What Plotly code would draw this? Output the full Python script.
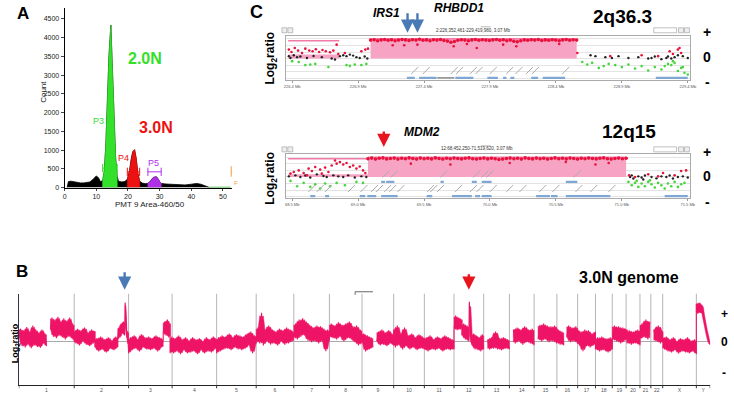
import plotly.graph_objects as go
import numpy as np

W, H = 734, 397
FONT = "Liberation Sans, Arial, Helvetica, sans-serif"


def px(x):
    return x / W


def py(y):
    return 1 - y / H


# ================= Panel A : DNA content histogram =================
hist_pos = [0.8, 1.2, 2, 3, 4, 5, 6, 7, 8, 9, 10, 10.7, 11.3, 12, 12.5, 13, 13.5, 14, 14.6,
            15.1, 15.6, 16.1, 16.6, 17, 18, 19, 19.8, 20.5, 21, 21.5, 22.1, 22.6, 23.1, 23.7,
            24.5, 25.5, 26.3, 27, 27.5, 28, 28.9, 29.5, 30, 30.5, 32, 34, 36, 38, 40, 41.7,
            43, 44, 45, 45.8]
hist_count = [0, 160, 170, 150, 135, 125, 125, 135, 150, 220, 310, 260, 160, 180, 420, 1100,
              2300, 3500, 4330, 3300, 1900, 800, 300, 170, 150, 160, 220, 450, 750, 950, 1010,
              780, 400, 170, 120, 105, 115, 160, 220, 270, 290, 240, 160, 110, 95, 80, 70, 70,
              90, 110, 90, 60, 25, 0]
gate_names = ["P3", "P4", "P5"]
gate_lo = [12.0, 19.8, 26.3]
gate_hi = [16.6, 23.7, 30.5]
gate_level = [520, 420, 420]
gate_colors = ["#33e02a", "#ee1111", "#b02ee8"]
gate_label_pos = [10.8, 18.6, 28.0]
gate_label_count = [1780, 790, 660]
tail_pos = [45.8, 52.4]
tail_count = [6, 6]
f_gate_pos = 52.6
f_gate_level = 430

# ================= Panel B : genome-wide profile =================
chrom_names = [str(i) for i in range(1, 23)] + ["X", "Y"]
chrom_bounds = [0, 56, 111, 155, 200, 240, 278, 314, 347, 379, 410, 440, 470, 496, 521,
                544, 565, 583, 600, 614, 628, 639, 651, 685, 699]
seg_start = [0.3, 32, 56, 77, 100, 107.5, 111, 146, 153, 200, 240, 278, 314, 347, 362, 379,
             410, 440, 448, 455.5, 474, 500, 525, 554, 565, 583, 600, 615, 628, 642, 651, 685]
seg_end = [28, 56, 77, 100, 107, 111, 146, 153, 200, 240, 278, 314, 347, 358, 379, 410, 440,
           448, 455, 470, 496, 521, 551, 565, 583, 600, 615, 628, 638, 651, 685, 699]
seg_values = [
    [0.1, 0.32, -0.12, 0.28, -0.15, 0.36, -0.08, 0.25, -0.17, 0.4, -0.1, 0.3, -0.14, 0.22, -0.16, 0.3, -0.05, 0.2, -0.12],
    [0.3, 0.6, 0.12, 0.55, 0.08, 0.62, 0.15, 0.5, 0.1, 0.58, 0.05, 0.52, 0.12, 0.6, 0.08, 0.45, 0.02],
    [0.25, -0.05, 0.32, -0.1, 0.28, 0.0, 0.35, -0.08, 0.22, -0.12, 0.3, -0.05, 0.26],
    [-0.15, 0.08, -0.25, 0.12, -0.2, 0.05, -0.28, 0.1, -0.18, 0.02, -0.22, 0.12, -0.15],
    [0.05, 0.35, 0.1, 0.45, 0.2, 0.5, 0.15],
    [0.98, 0.3, 0.1, 0.25, -0.1],
    [-0.3, 0.1, -0.22, 0.15, -0.18, 0.05, -0.25, 0.18, -0.15, 0.1, -0.2, 0.12, -0.22, 0.08, -0.18, 0.15, -0.25, 0.1, -0.15, 0.05],
    [0.2, 0.5, 0.15, 0.55, 0.1, 0.45],
    [-0.3, 0.12, -0.3, 0.08, -0.25, 0.15, -0.32, 0.05, -0.22, 0.1, -0.3, 0.02, -0.28, 0.1, -0.25, 0.05, -0.32, 0.08, -0.22, 0.0, -0.3, 0.1, -0.25, 0.05, -0.28, 0.12, -0.2, 0.05],
    [-0.3, 0.1, -0.25, 0.15, -0.2, 0.12, -0.18, 0.2, -0.22, 0.1, -0.15, 0.18, -0.2, 0.15, -0.22, 0.12, -0.18, 0.2, -0.1, 0.25, -0.3, 0.15, -0.05],
    [0.0, 0.35, -0.05, 0.72, -0.1, 0.3, 0.0, 0.4, -0.08, 0.3, -0.05, 0.25, -0.1, 0.32, 0.0, 0.28, -0.08, 0.35, -0.05, 0.3, 0.0, 0.22],
    [0.1, 0.45, 0.05, 0.55, 0.12, 0.58, 0.15, 0.5, 0.02, 0.42, -0.02, 0.35, 0.0, 0.4, -0.05, 0.38, 0.0, 0.32, -0.25, 0.3, 0.02],
    [0.1, 0.45, 0.08, 0.4, 0.05, 0.48, 0.12, 0.42, 0.0, 0.45, 0.08, 0.5, 0.05, 0.38, -0.02, 0.4, -0.1, 0.3, -0.05],
    [0.0, 0.2, -0.25, 0.15, -0.2, 0.1, -0.15],
    [0.0, 0.25, -0.1, 0.3, -0.08, 0.22, -0.12, 0.28, -0.05, 0.2, -0.1],
    [0.3, -0.15, 0.4, -0.1, 0.2, -0.2, 0.35, -0.12, 0.15, -0.2, 0.2, -0.15, 0.1, -0.22, 0.18, -0.18, 0.12, -0.2],
    [-0.2, 0.1, -0.25, 0.15, -0.2, 0.05, -0.22, 0.12, -0.18, 0.08, -0.25, 0.15, -0.2, 0.1, -0.22, 0.05, -0.2],
    [0.3, 0.65, 0.28, 0.6, 0.3, 0.55],
    [0.15, 0.45, 0.05, 0.4, 0.0],
    [1.0, 0.1, -0.1, 0.2, -0.2, 0.15, -0.22, 0.1, -0.25, 0.18, -0.2],
    [0.05, -0.2, 0.1, -0.18, 0.25, -0.2, 0.08, -0.22, 0.1, -0.18, 0.05, -0.2],
    [0.3, -0.05, 0.35, 0.0, 0.3, -0.08, 0.38, -0.02, 0.3, -0.05, 0.32, -0.1],
    [0.05, 0.42, 0.0, 0.45, 0.05, 0.4, -0.02, 0.38, 0.0, 0.4, -0.05, 0.3, -0.08, 0.25, -0.1],
    [0.1, 0.4, -0.02, 0.35, 0.0, 0.38, -0.05],
    [0.3, -0.1, 0.25, -0.25, 0.3, -0.12, 0.28, -0.15, 0.2, -0.1, 0.25],
    [-0.2, 0.1, -0.25, 0.12, -0.22, 0.08, -0.28, 0.1, -0.2],
    [0.05, 0.4, 0.0, 0.38, -0.05, 0.35, 0.02, 0.3],
    [-0.05, 0.28, -0.08, 0.25, -0.05, 0.3, -0.1],
    [0.05, 0.45, 0.1, 0.55, 0.05, 0.5],
    [0.3, 0.0, 0.4, -0.05, 0.25],
    [0.1, -0.2, 0.12, -0.25, 0.05, -0.28, 0.1, -0.22, 0.0, -0.3, 0.08, -0.25, 0.05, -0.28, 0.1, -0.3, 0.02, -0.25, 0.05, -0.32],
    [0.95, 0.7, 0.98, 0.72, 0.92, 0.68, 0.45, 0.3, 0.15, 0.0, -0.08],
]

# ================= Panel C : array CGH zoom views =================
# --- 2q36.3 ---
c1_ticks = [226.4, 226.9, 227.4, 227.9, 228.4, 228.9, 229.4]
c1_cnv_start = [226.37, 226.995]
c1_cnv_end = [226.7575, 228.5575]
c1_cnv_level = [0.2, 1.0]
c1_cnv_line = [0.9, 1.0]
c1_amp_vals = [0.93, 0.95, 0.9, 0.94, 0.96, 0.92, 0.95, 0.9, 0.93, 0.96, 0.94, 0.91, 0.95, 0.93,
               0.97, 0.92, 0.94, 0.9, 0.95, 0.93, 0.96, 0.91, 0.88, 0.82, 0.86, 0.92, 0.95, 0.93,
               0.9, 0.94, 0.96, 0.92, 0.95, 0.93, 0.91, 0.94, 0.96, 0.92, 0.95, 0.9, 0.93, 0.87,
               0.85, 0.9, 0.94, 0.92, 0.95, 0.93, 0.96, 0.91, 0.94, 0.92, 0.95, 0.93, 0.9, 0.94,
               0.96, 0.92, 0.95, 0.93]
c1_red_pos = [226.375, 226.395, 226.42, 226.445, 226.475, 226.5, 226.53, 226.555, 226.58, 226.605,
              226.63, 226.655, 226.6875, 226.7125, 226.7375, 226.75, 226.8, 226.925, 226.955, 226.975,
              227.1625, 227.25, 227.35, 227.625, 227.725, 228.0, 228.1, 228.425, 227.8,
              228.5625, 228.8125, 229.05, 229.175, 229.2625, 229.2875, 229.325, 229.3375, 229.35]
c1_red_vals = [0.45, 0.33, 0.53, 0.4, 0.28, 0.5, 0.4, 0.37, 0.47, 0.33, 0.43, 0.37, 0.32, 0.4, 0.7,
               0.23, 0.28, 0.37, 0.45, 0.5,
               0.67, 0.67, 0.7, 0.62, 0.73, 0.7, 0.62, 0.73, 0.53,
               0.28, 0.12, 0.17, 0.12, 0.37, 0.23, 0.45, 0.53, 0.28]
c1_black_pos = [226.375, 226.3875, 226.4125, 226.4375, 226.4625, 226.5125, 226.5625, 226.625, 226.7,
                226.725, 226.7625, 226.7875, 226.8125, 226.8375, 226.8625, 226.8875, 226.9125,
                226.95, 226.97,
                228.6625, 228.7, 228.775, 228.825, 228.875, 228.95, 229.025, 229.1, 229.125,
                229.15, 229.2, 229.2375, 229.25, 229.275, 229.3, 229.325, 229.3625, 229.4]
c1_black_vals = [0.12, 0.03, 0.17, 0.07, 0.1, 0.03, 0.13, 0.07, 0.0, -0.05, 0.12, 0.17, 0.12, 0.2,
                 0.15, 0.07, 0.03, 0.1, 0.0,
                 0.17, 0.12, 0.07, 0.03, 0.12, 0.03, 0.07, 0.0, 0.03, 0.1, -0.03, 0.03, 0.1, 0.0,
                 0.07, 0.17, 0.12, 0.03]
c1_green_pos = [226.4, 226.45, 226.5, 226.5375, 226.575, 226.675, 226.8125, 226.8375, 226.875,
                226.925, 226.9625,
                228.6, 228.6375, 228.675, 228.725, 228.7625, 228.8, 228.85, 228.9, 228.95, 229.0,
                229.05, 229.1, 229.15, 229.2, 229.225, 229.25, 229.275, 229.2875, 229.3, 229.325,
                229.35, 229.3625, 229.375, 229.4]
c1_green_vals = [-0.13, -0.17, -0.33, -0.3, -0.27, -0.43, -0.33, -0.37, -0.3, -0.33, -0.27,
                 -0.17, -0.3, -0.22, -0.47, -0.38, -0.27, -0.33, -0.43, -0.3, -0.5, -0.38, -0.6,
                 -0.43, -0.55, -0.38, -0.27, -0.33, -0.13, -0.22, -0.63, -0.47, -0.43, -0.72, -0.8]
c1_gene_start = [227.27, 227.3625, 227.6375, 227.88, 228.0, 228.055, 228.2125, 228.3, 229.1575]
c1_gene_end = [227.33, 227.495, 227.775, 227.96, 228.025, 228.085, 228.265, 228.47, 229.4]
c1_grey_gene = [227.5, 227.63]
c1_gene_label_pos = [227.33, 227.4175, 227.63, 227.67, 227.775, 227.8175, 227.925, 228.05, 228.12,
                     228.2, 228.245, 228.475]

# --- 12q15 ---
c2_ticks = [68.5, 69.0, 69.5, 70.0, 70.5, 71.0, 71.5]
c2_cnv_start = [68.47, 69.075]
c2_cnv_end = [69.075, 71.0325]
c2_cnv_level = [0.13, 1.0]
c2_cnv_line = [0.92, 1.0]
c2_amp_vals = [0.92, 0.95, 0.9, 0.94, 0.96, 0.91, 0.93, 0.95, 0.9, 0.94, 0.92, 0.96, 0.93, 0.9,
               0.95, 0.92, 0.94, 0.91, 0.96, 0.93, 0.9, 0.94, 0.92, 0.95, 0.93, 0.91, 0.94, 0.96,
               0.92, 0.9, 0.93, 0.95, 0.91, 0.94, 0.92, 0.88, 0.9, 0.93, 0.95, 0.92, 0.94, 0.9,
               0.96, 0.93, 0.91, 0.95, 0.92, 0.94, 0.9, 0.93, 0.96, 0.92, 0.94, 0.91, 0.95, 0.93,
               0.9, 0.94, 0.92, 0.95, 0.93, 0.91, 0.94, 0.96, 0.92, 0.9, 0.93, 0.95, 0.92, 0.94]
c2_red_pos = [68.4875, 68.5125, 68.55, 68.5875, 68.6125, 68.625, 68.65, 68.675, 68.7125, 68.725,
              68.75, 68.775, 68.8, 68.825, 68.8375, 68.8625, 68.8875, 68.9125, 68.9375, 68.9625,
              68.9875, 69.0125, 69.0375, 69.055,
              69.4, 69.7, 70.15, 70.575, 70.8, 70.9,
              71.055, 71.1, 71.2, 71.275, 71.3125, 71.4, 71.45, 71.4875]
c2_red_vals = [0.17, 0.25, 0.33, 0.2, 0.08, 0.42, 0.3, 0.5, 0.37, 0.17, 0.47, 0.25, 0.58, 0.83,
               0.67, 0.75, 0.63, 0.7, 0.5, 0.58, 0.42, 0.53, 0.33, 0.2,
               0.67, 0.63, 0.7, 0.75, 0.63, 0.7,
               0.08, 0.0, 0.13, 0.03, 0.2, 0.08, 0.3, 0.33]
c2_black_pos = [68.475, 68.525, 68.5625, 68.6, 68.6375, 68.6875, 68.7375, 68.7625, 68.8125, 68.85,
                68.8875, 68.925, 68.975, 69.025, 69.0625,
                71.0625, 71.075, 71.0875, 71.125, 71.15, 71.1625, 71.175, 71.225, 71.2625, 71.3,
                71.3375, 71.3625, 71.3875, 71.425, 71.4625, 71.5]
c2_black_vals = [0.03, 0.08, 0.0, 0.07, -0.03, 0.13, 0.05, 0.0, 0.08, 0.03, 0.0, 0.08, -0.03, 0.03,
                 0.0,
                 0.0, 0.08, -0.08, 0.03, -0.03, -0.13, 0.07, 0.0, -0.07, 0.03, 0.0, 0.07, -0.08,
                 0.0, 0.03, -0.03]
c2_green_pos = [68.4875, 68.5375, 68.5875, 68.6375, 68.675, 68.7125, 68.75, 68.7875, 68.8375, 68.9,
                68.9875, 69.0375,
                71.05, 71.075, 71.1, 71.1125, 71.125, 71.15, 71.175, 71.2, 71.2125, 71.225, 71.25,
                71.275, 71.3, 71.325, 71.35, 71.375, 71.4, 71.425, 71.45, 71.475]
c2_green_vals = [-0.2, -0.47, -0.3, -0.5, -0.37, -0.58, -0.33, -0.47, -0.3, -0.42, -0.25, -0.3,
                 -0.25, -0.42, -0.3, -0.2, -0.5, -0.33, -0.47, -0.25, -0.17, -0.37, -0.53, -0.3,
                 -0.42, -0.58, -0.33, -0.47, -0.25, -0.5, -0.37, -0.3]
c2_gene_start_a = [69.175, 69.2125, 69.625, 69.8625, 69.9375, 70.575]
c2_gene_end_a = [69.205, 69.275, 69.65, 69.9, 70.0125, 70.6625]
c2_gene_start_b = [68.6375, 68.75, 69.0125, 69.07, 69.175, 69.52, 69.7125, 69.8875, 69.9375,
                   70.35, 70.4625, 70.575, 71.325]
c2_gene_end_b = [68.675, 68.78, 69.055, 69.1375, 69.3, 69.5625, 69.8625, 69.925, 70.0125, 70.455,
                 70.5125, 70.9125, 71.5]
c2_gene_label_pos_a = [69.2125, 69.275, 69.65, 69.9, 69.9625, 70.0, 70.6625]
c2_gene_label_pos_b = [68.65, 68.7125, 68.775, 68.95, 69.045, 69.125, 69.1625, 69.225, 69.2625,
                       69.325, 69.55, 69.575, 69.625, 69.7625, 69.875, 69.925, 70.025, 70.15,
                       70.25, 70.4, 70.5, 70.675, 70.7875, 70.925]

RED = "#e8123c"
PINK = "#f7a3c3"
PINK_LINE = "#f27aa8"
BLACK_DOT = "#222222"
GREEN_DOT = "#44d63a"
GENE_BLUE = "#7fa7d4"
LINE_B = "#ee1466"

fig = go.Figure()

# ---------- Panel A traces ----------
fig.add_trace(go.Scatter(x=hist_pos, y=hist_count, mode="lines", fill="tozeroy",
                         line=dict(color="black", width=0.8), fillcolor="black",
                         xaxis="x", yaxis="y", hoverinfo="skip"))
for lo, hi, col in zip(gate_lo, gate_hi, gate_colors):
    xs = [lo] + [p for p in hist_pos if lo <= p <= hi] + [hi]
    ys = [0] + [c for p, c in zip(hist_pos, hist_count) if lo <= p <= hi] + [0]
    fig.add_trace(go.Scatter(x=xs, y=ys, mode="lines", fill="toself", fillcolor=col,
                             line=dict(color=col, width=0.6), xaxis="x", yaxis="y",
                             hoverinfo="skip"))
fig.add_trace(go.Scatter(x=tail_pos, y=tail_count, mode="lines",
                         line=dict(color="#2fa82f", width=1.2), xaxis="x", yaxis="y"))

# ---------- Panel C traces ----------
def add_cgh(xa, ya, cnv_s, cnv_e, cnv_l, cnv_line, amp_vals, red_p, red_v, blk_p, blk_v,
            grn_p, grn_v):
    for s, e, l, ln in zip(cnv_s, cnv_e, cnv_l, cnv_line):
        fig.add_trace(go.Scatter(x=[s, e, e, s, s], y=[0, 0, l, l, 0], mode="lines",
                                 fill="toself", fillcolor=PINK, line=dict(width=0),
                                 xaxis=xa, yaxis=ya, hoverinfo="skip"))
        fig.add_trace(go.Scatter(x=[s, e], y=[ln, ln], mode="lines",
                                 line=dict(color=PINK_LINE, width=1.4),
                                 xaxis=xa, yaxis=ya, hoverinfo="skip"))
    amp_x = np.linspace(cnv_s[1], cnv_e[1], len(amp_vals))
    fig.add_trace(go.Scatter(x=amp_x, y=amp_vals, mode="markers",
                             marker=dict(color=RED, size=3.6), xaxis=xa, yaxis=ya))
    fig.add_trace(go.Scatter(x=grn_p, y=grn_v, mode="markers",
                             marker=dict(color=GREEN_DOT, size=2.6), xaxis=xa, yaxis=ya))
    fig.add_trace(go.Scatter(x=blk_p, y=blk_v, mode="markers",
                             marker=dict(color=BLACK_DOT, size=2.4), xaxis=xa, yaxis=ya))
    fig.add_trace(go.Scatter(x=red_p, y=red_v, mode="markers",
                             marker=dict(color=RED, size=2.6), xaxis=xa, yaxis=ya))


def add_genes(xa, ya, starts, ends, level, color, width=2.2):
    gx, gy = [], []
    for s, e in zip(starts, ends):
        gx += [s, e, None]
        gy += [level, level, None]
    fig.add_trace(go.Scatter(x=gx, y=gy, mode="lines", line=dict(color=color, width=width),
                             xaxis=xa, yaxis=ya, hoverinfo="skip"))


def add_gene_labels(xa, ya, pos, level):
    fig.add_trace(go.Scatter(x=pos, y=[level] * len(pos), mode="markers",
                             marker=dict(symbol="line-ne", size=7,
                                         line=dict(color="#aaaaaa", width=1)),
                             xaxis=xa, yaxis=ya, hoverinfo="skip"))


add_cgh("x2", "y2", c1_cnv_start, c1_cnv_end, c1_cnv_level, c1_cnv_line, c1_amp_vals,
        c1_red_pos, c1_red_vals, c1_black_pos, c1_black_vals, c1_green_pos, c1_green_vals)
add_gene_labels("x2", "y2", c1_gene_label_pos, -0.6)
add_genes("x2", "y2", c1_gene_start, c1_gene_end, -0.97, GENE_BLUE)
add_genes("x2", "y2", [c1_grey_gene[0]], [c1_grey_gene[1]], -0.97, "#777777", 1.2)

add_cgh("x3", "y3", c2_cnv_start, c2_cnv_end, c2_cnv_level, c2_cnv_line, c2_amp_vals,
        c2_red_pos, c2_red_vals, c2_black_pos, c2_black_vals, c2_green_pos, c2_green_vals)
add_gene_labels("x3", "y3", c2_gene_label_pos_a, 0.15)
add_genes("x3", "y3", c2_gene_start_a, c2_gene_end_a, -0.25, GENE_BLUE)
add_gene_labels("x3", "y3", c2_gene_label_pos_b, -0.58)
add_genes("x3", "y3", c2_gene_start_b, c2_gene_end_b, -0.97, GENE_BLUE)

# ---------- Panel B traces ----------
bx, by = [], []
band_x, band_y = [], []
prev_end = None
for s, e, vals in zip(seg_start, seg_end, seg_values):
    pos = list(np.linspace(s, e, len(vals)))
    if prev_end is not None and s - prev_end > 0.6:
        bx.append(None)
        by.append(None)
    bx += pos
    by += vals
    prev_end = e
    # solid core of the noise band, derived from the local spread of the typed values
    up, lo = [], []
    for i in range(len(vals)):
        win = vals[max(0, i - 1):i + 2]
        m = sum(win) / len(win)
        up.append(m + 0.8 * (max(win) - m))
        lo.append(m - 0.8 * (m - min(win)))
    band_x += pos + pos[::-1] + [pos[0], None]
    band_y += up + lo[::-1] + [up[0], None]
fig.add_trace(go.Scatter(x=band_x, y=band_y, mode="lines", fill="toself", fillcolor=LINE_B,
                         line=dict(color=LINE_B, width=0.5), xaxis="x4", yaxis="y4",
                         hoverinfo="skip"))
fig.add_trace(go.Scatter(x=bx, y=by, mode="lines", line=dict(color=LINE_B, width=1.1),
                         xaxis="x4", yaxis="y4", hoverinfo="skip"))

# ---------- shapes ----------
shapes = []
for lo_, hi_, lvl, col in zip(gate_lo, gate_hi, gate_level, gate_colors):
    shapes.append(dict(type="line", xref="x", yref="y", x0=lo_, x1=hi_, y0=lvl, y1=lvl,
                       line=dict(color=col, width=1)))
    for xx in (lo_, hi_):
        shapes.append(dict(type="line", xref="x", yref="y", x0=xx, x1=xx, y0=lvl - 110,
                           y1=lvl + 110, line=dict(color=col, width=1)))
shapes.append(dict(type="line", xref="x", yref="y", x0=f_gate_pos, x1=f_gate_pos,
                   y0=f_gate_level - 140, y1=f_gate_level + 140,
                   line=dict(color="#f0a040", width=1)))
shapes.append(dict(type="line", xref="x", yref="y", x0=f_gate_pos, x1=53, y0=f_gate_level,
                   y1=f_gate_level, line=dict(color="#f0a040", width=1)))
# chromosome separators in B
for b in chrom_bounds[1:-1]:
    shapes.append(dict(type="line", xref="x4", yref="y4 domain", x0=b, x1=b, y0=0, y1=1,
                       line=dict(color="#b5b5b5", width=1), layer="below"))
for b in chrom_bounds:
    shapes.append(dict(type="line", xref="x4", yref="y4 domain", x0=b, x1=b, y0=-0.035, y1=0,
                       line=dict(color="#333", width=1)))
# small bar above B
shapes.append(dict(type="line", xref="paper", yref="paper", x0=px(357), x1=px(375),
                   y0=py(294), y1=py(294), line=dict(color="#666", width=1)))
shapes.append(dict(type="line", xref="paper", yref="paper", x0=px(357), x1=px(357),
                   y0=py(294), y1=py(297), line=dict(color="#666", width=1)))
# toolbar widgets on the CGH panels
for ty in (30.5, 150.5):
    for x0, x1 in ((283, 288), (289, 294), (684, 689), (690, 695)):
        shapes.append(dict(type="rect", xref="paper", yref="paper", x0=px(x0), x1=px(x1),
                           y0=py(ty + 2.5), y1=py(ty - 2.5), line=dict(color="#999", width=0.6),
                           fillcolor="#eeeeee"))
    shapes.append(dict(type="rect", xref="paper", yref="paper", x0=px(659), x1=px(682),
                       y0=py(ty + 2.5), y1=py(ty - 2.5), line=dict(color="#999", width=0.6),
                       fillcolor="#ffffff"))
    shapes.append(dict(type="line", xref="paper", yref="paper", x0=px(484), x1=px(494),
                       y0=py(ty - 3.5), y1=py(ty - 3.5), line=dict(color="#888", width=0.6)))

# ---------- annotations ----------
ann = []


def txt(x, y, s, size, color="black", bold=False, italic=False, angle=0, xanchor="center",
        yanchor="middle"):
    t = s
    if italic:
        t = "<i>" + t + "</i>"
    if bold:
        t = "<b>" + t + "</b>"
    ann.append(dict(x=px(x), y=py(y), xref="paper", yref="paper", text=t, showarrow=False,
                    font=dict(size=size, color=color, family=FONT), textangle=angle,
                    xanchor=xanchor, yanchor=yanchor))


def arrow(x, y_tail, y_tip, color):
    ann.append(dict(x=px(x), y=py(y_tip), xref="paper", yref="paper", text="",
                    showarrow=True, ax=0, ay=-(y_tip - y_tail), axref="pixel", ayref="pixel",
                    arrowhead=2, arrowsize=1.1, arrowwidth=2.4, arrowcolor=color))


# Panel A labels
txt(21, 14, "A", 17, bold=True)
txt(42, 93, "Count", 8, color="#222", angle=-90)
txt(150, 206, "PMT 9 Area-460/50", 8, color="#222")
for name, xp, cp, col in zip(gate_names, gate_label_pos, gate_label_count, gate_colors):
    ann.append(dict(x=xp, y=cp, xref="x", yref="y", text=name, showarrow=False,
                    font=dict(size=9, color=col, family=FONT)))
ann.append(dict(x=25.3, y=3440, xref="x", yref="y", text="<b>2.0N</b>", showarrow=False,
                font=dict(size=16, color=gate_colors[0], family=FONT)))
ann.append(dict(x=29.0, y=1590, xref="x", yref="y", text="<b>3.0N</b>", showarrow=False,
                font=dict(size=16, color=gate_colors[1], family=FONT)))
ann.append(dict(x=53.0, y=130, xref="x", yref="y", text="F", showarrow=False,
                xanchor="left", font=dict(size=6, color="#f0a040", family=FONT)))

# Panel C labels
txt(257, 12, "C", 18, bold=True)
txt(389, 13, "IRS1", 12, bold=True, italic=True)
txt(462, 8, "RHBDD1", 12, bold=True, italic=True)
txt(627, 17, "2q36.3", 19, bold=True)
txt(425, 133, "MDM2", 12, bold=True, italic=True)
txt(634, 132, "12q15", 19, bold=True)
txt(272, 59, "Log<sub>2</sub>ratio", 12, bold=True, angle=-90)
txt(272, 180, "Log<sub>2</sub>ratio", 12, bold=True, angle=-90)
txt(477, 31, "2:226,352,461-229,419,980, 3.07 Mb", 4.5, color="#333")
txt(480, 150, "12:68,452,250-71,519,620, 3.07 Mb", 4.5, color="#333")
for yy, s in zip((32, 57, 83), ("+", "0", "-")):
    txt(713, yy, s, 14, bold=True)
for yy, s in zip((153, 177, 204), ("+", "0", "-")):
    txt(713, yy, s, 14, bold=True)
arrow(410, 12, 33, "#4a7ab5")
arrow(420, 12, 33, "#4a7ab5")
arrow(386, 131, 148, "#e8141e")

# Panel B labels
txt(20, 274, "B", 17, bold=True)
txt(14, 346, "Log<sub>2</sub>ratio", 9, bold=True, angle=-90)
txt(634, 280, "3.0N genome", 16, bold=True)
for yy, s in zip((316, 345, 376), ("+", "0", "-")):
    txt(730, yy, s, 12, bold=True)
arrow(124, 273, 292, "#4a7ab5")
arrow(472, 275, 292, "#e8141e")

chrom_mid = [(a + b) / 2 for a, b in zip(chrom_bounds[:-1], chrom_bounds[1:])]

axis_common = dict(showgrid=False, zeroline=False)
fig.update_layout(
    width=W, height=H, margin=dict(l=0, r=0, t=0, b=0),
    paper_bgcolor="white", plot_bgcolor="white", showlegend=False,
    font=dict(family=FONT),
    xaxis=dict(domain=[px(63.3), px(233)], range=[0, 53], anchor="y",
               tickvals=[0, 10, 20, 30, 40, 50], ticks="outside", ticklen=2,
               showline=True, linecolor="black", linewidth=1,
               tickfont=dict(size=7, color="#222"), **axis_common),
    yaxis=dict(domain=[py(189), py(8)], range=[0, 4790], anchor="x",
               tickvals=list(range(0, 4501, 500)), ticks="outside", ticklen=3,
               showline=True, linecolor="black", linewidth=1,
               tickfont=dict(size=7, color="#222"), **axis_common),
    xaxis2=dict(domain=[px(287), px(696)], range=[226.3525, 229.42], anchor="y2",
                tickvals=c1_ticks, ticktext=[f"{t:.1f} Mb" for t in c1_ticks],
                ticks="outside", ticklen=2, tickcolor="#999",
                tickfont=dict(size=4, color="#555"), showline=True, mirror=True,
                linecolor="#aaaaaa", linewidth=1, **axis_common),
    yaxis2=dict(domain=[py(81), py(36)], range=[-1.1, 1.15], anchor="x2",
                tickvals=[-1.0, -0.67, -0.33, 0, 0.33, 0.67, 1.0], showticklabels=False,
                showgrid=True, gridcolor="#e4e4e4", gridwidth=1, zeroline=False,
                showline=True, mirror=True, linecolor="#aaaaaa", linewidth=1),
    xaxis3=dict(domain=[px(287), px(696)], range=[68.4525, 71.52], anchor="y3",
                tickvals=c2_ticks, ticktext=[f"{t:.1f} Mb" for t in c2_ticks],
                ticks="outside", ticklen=2, tickcolor="#999",
                tickfont=dict(size=4, color="#555"), showline=True, mirror=True,
                linecolor="#aaaaaa", linewidth=1, **axis_common),
    yaxis3=dict(domain=[py(200), py(155)], range=[-1.085, 1.165], anchor="x3",
                tickvals=[-1.0, -0.67, -0.33, 0, 0.33, 0.67, 1.0], showticklabels=False,
                showgrid=True, gridcolor="#e4e4e4", gridwidth=1, zeroline=False,
                showline=True, mirror=True, linecolor="#aaaaaa", linewidth=1),
    xaxis4=dict(domain=[px(17), px(716)], range=[0, 699], anchor="y4",
                tickvals=chrom_mid, ticktext=chrom_names, ticks="",
                tickfont=dict(size=5, color="#555"), showline=True, linecolor="#222",
                linewidth=1, **axis_common),
    yaxis4=dict(domain=[py(388), py(296)], range=[-1.1, 1.2], anchor="x4",
                showticklabels=False, ticks="", showgrid=False, zeroline=True,
                zerolinecolor="#aaaaaa", zerolinewidth=1, showline=True,
                linecolor="#334", linewidth=1.2),
    shapes=shapes,
    annotations=ann,
)

fig.write_html("out.html", config={"displayModeBar": False, "staticPlot": True},
               post_script="document.body.style.margin='0px';"
                           "document.body.style.overflow='hidden';")
